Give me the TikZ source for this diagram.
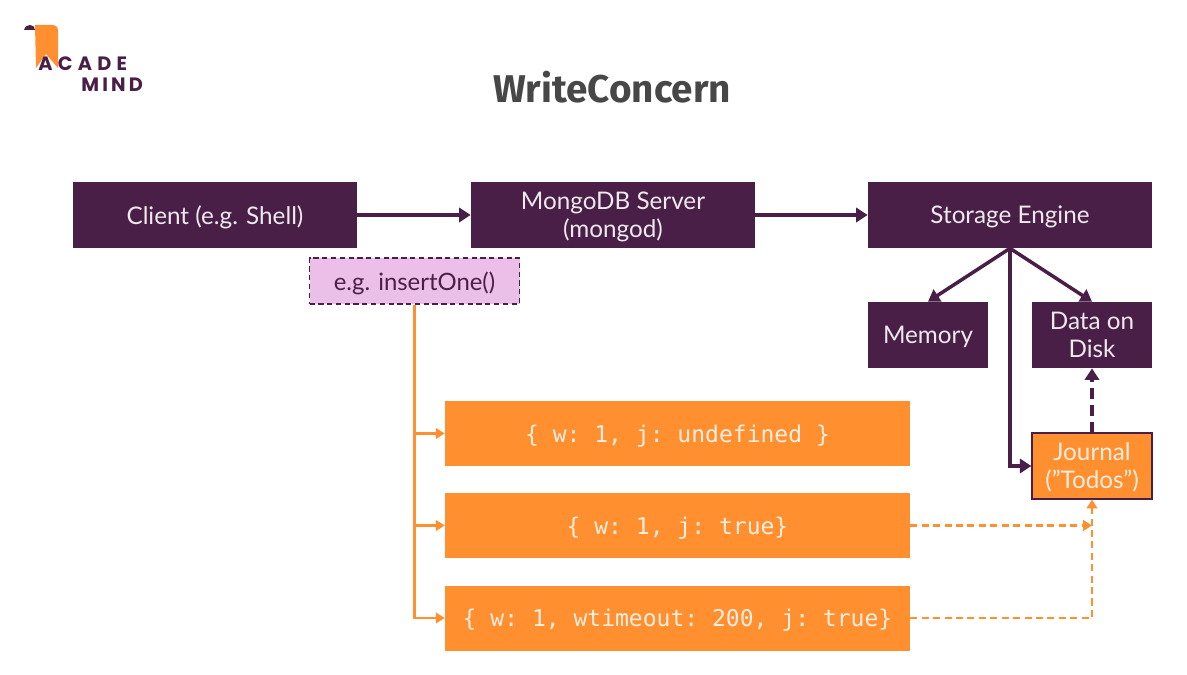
\documentclass[tikz,border=0pt]{standalone}
\usepackage{fontspec}
\setmainfont{Lato}
\setmonofont{DejaVu Sans Mono}
\newfontfamily\titlefont{Fira Sans}
\newfontfamily\logofont{Poppins}
\usetikzlibrary{arrows.meta}
\definecolor{plum}{HTML}{4A1F47}
\definecolor{tangerine}{HTML}{FF8F2F}
\definecolor{lilac}{HTML}{ECBFE9}
\tikzset{
  plumbox/.style={fill=plum, text=white!90!plum, align=center, inner sep=0pt, text depth=0pt, font=\fontsize{13.8}{16}\selectfont},
  codebox/.style={fill=tangerine, text=white!85!tangerine, minimum width=465*0.02cm, minimum height=65*0.02cm, inner sep=0pt, text depth=0pt, font=\ttfamily\fontsize{13.1}{15}\selectfont},
  plumline/.style={draw=plum, line width=2pt, -{Triangle[length=6.5pt,width=8pt]}},
  orangeline/.style={draw=tangerine, line width=1.6pt, -{Triangle[length=5pt,width=6pt]}},
  orangedash/.style={orangeline, dash pattern=on 4pt off 2.5pt},
  logotext/.style={font=\logofont\bfseries\fontsize{11}{12}\selectfont, text=plum, inner sep=0pt, anchor=west},
}
\begin{document}
\begin{tikzpicture}[x=0.02cm, y=-0.02cm]
  \useasboundingbox (0,0) rectangle (1187,675);
  % logo
  \fill[tangerine] (35,25) -- (52,25) .. controls (56,25) and (58,27) .. (58,31) -- (58,68) -- (46,54) -- (36,68) -- cycle;
  \fill[plum] (24,30) .. controls (25,26) and (28,25) .. (30,25) .. controls (33,25) and (35,27) .. (35,30) -- cycle;
  \node[logotext] (acade) at (38,64) {A\kern3pt C\kern3pt A\kern3pt D\kern3pt E};
  \node[logotext] (mind) at (81,85) {M\,I\,N\,D};
  \node[font=\titlefont\bfseries\fontsize{22}{24}\selectfont, text=black!72, inner sep=0pt] (title) at (612,87) {WriteConcern};
  % top row
  \foreach \n/\x/\t in {client/215/Client (e.g. Shell), server/613/{MongoDB Server\\(mongod)}, storage/1010/Storage Engine} {
    \node[plumbox, minimum width=284*0.02cm, minimum height=66*0.02cm] (\n) at (\x,215) {\t};
  }
  \node[plumbox, minimum width=120*0.02cm, minimum height=66*0.02cm] (memory) at (928,335) {Memory};
  \node[plumbox, minimum width=120*0.02cm, minimum height=66*0.02cm] (disk) at (1092,335) {Data on\\Disk};
  \node[draw=plum, line width=0.7pt, fill=tangerine, text=white!85!tangerine, align=center, inner sep=0pt, text depth=0pt, minimum width=120*0.02cm, minimum height=66*0.02cm, font=\fontsize{13.8}{16}\selectfont] (journal) at (1092,466) {Journal\\("Todos")};
  \node[draw=plum, densely dashed, line width=0.6pt, fill=lilac, text=plum, inner sep=0pt, text depth=0pt, minimum width=210*0.02cm, minimum height=46*0.02cm, font=\fontsize{13.6}{15}\selectfont] (insert) at (414.5,281) {e.g. insertOne()};
  % write concerns
  \node[codebox] (wa) at (677.5,433.5) {\{ w: 1, j: undefined \}};
  \node[codebox] (wb) at (677.5,525.5) {\{ w: 1, j: true\}};
  \node[codebox] (wc) at (677.5,618) {\{ w: 1, wtimeout: 200, j: true\}};
  \draw[plumline] (client) -- (server);
  \draw[plumline] (server) -- (storage);
  \draw[plumline] (storage.south) -- (memory.north);
  \draw[plumline] (storage.south) -- (disk.north);
  \draw[plumline] (storage.south) |- (journal.west);
  \draw[plumline, dash pattern=on 6pt off 3.5pt] (journal.north) -- (disk.south);
  \foreach \n in {wa,wb,wc} {
    \draw[orangeline] (insert.south) |- (\n.west);
  }
  \draw[orangedash] (wb.east) -- (wb.east -| journal.south);
  \draw[orangedash] (wc.east) -| (journal.south);
\end{tikzpicture}
\end{document}
